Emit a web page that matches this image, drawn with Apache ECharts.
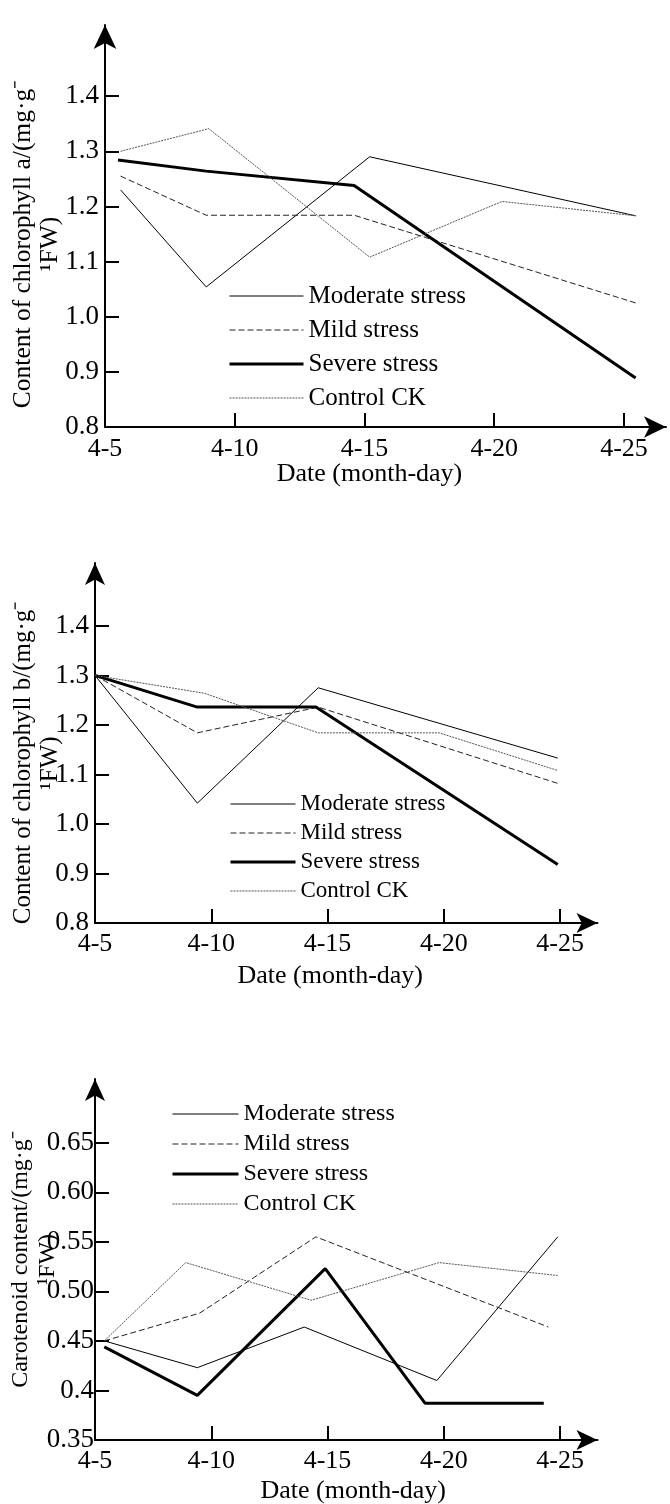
<!DOCTYPE html>
<html>
<head>
<meta charset="utf-8">
<script src="https://cdn.jsdelivr.net/npm/echarts@6.0.0/dist/echarts.min.js"></script>
<style>
html, body { margin: 0; padding: 0; background: #fff; }
#main { width: 670px; height: 1504px; }
</style>
</head>
<body>
<div id="main"></div>
<script>
var names = ['Moderate stress', 'Mild stress', 'Severe stress', 'Control CK'];

// x = day of April (4-5 ... 4-25)
var dayTicks = [5, 10, 15, 20, 25];
var chlTicks = [0.8, 0.9, 1.0, 1.1, 1.2, 1.3, 1.4];
var chlTickLabels = ['0.8', '0.9', '1.0', '1.1', '1.2', '1.3', '1.4'];
var carTicks = [0.35, 0.40, 0.45, 0.50, 0.55, 0.60, 0.65];
var carTickLabels = ['0.35', '0.4', '0.45', '0.50', '0.55', '0.60', '0.65'];

// chlorophyll a  [day, mg/g FW]
var aModerate = [[5.6, 1.230], [8.9, 1.054], [15.2, 1.290], [25.45, 1.183]];
var aMild     = [[5.6, 1.255], [8.9, 1.184], [14.6, 1.184], [25.45, 1.025]];
var aSevere   = [[5.5, 1.284], [8.9, 1.264], [14.6, 1.238], [25.45, 0.889]];
var aControl  = [[5.6, 1.300], [9.0, 1.341], [15.2, 1.108], [20.3, 1.209], [25.45, 1.183]];

// chlorophyll b
var bModerate = [[5, 1.300], [9.4, 1.042], [14.6, 1.275], [24.9, 1.133]];
var bMild     = [[5, 1.300], [9.4, 1.184], [14.6, 1.236], [24.9, 1.082]];
var bSevere   = [[5, 1.300], [9.4, 1.236], [14.5, 1.236], [24.9, 0.918]];
var bControl  = [[5, 1.300], [9.7, 1.264], [14.6, 1.184], [19.8, 1.184], [24.9, 1.108]];

// carotenoid
var cModerate = [[5.4, 0.450], [9.4, 0.423], [14.0, 0.464], [19.7, 0.410], [24.9, 0.555]];
var cMild     = [[5.4, 0.450], [9.5, 0.478], [14.5, 0.555], [24.5, 0.464]];
var cSevere   = [[5.4, 0.444], [9.4, 0.395], [14.9, 0.523], [19.2, 0.387], [24.3, 0.387]];
var cControl  = [[5.4, 0.450], [8.9, 0.529], [14.3, 0.491], [19.8, 0.529], [24.9, 0.516]];

var serif = 'Liberation Serif';
var lineStyles = [
	{ color: '#000', width: 1, type: 'solid' },
	{ color: '#222', width: 1, type: [6, 3] },
	{ color: '#000', width: 3, type: 'solid' },
	{ color: '#555', width: 1, type: [2, 1] }
];

function pickLabel(ticks, labels) {
	return function(v) {
		for (var i = 0; i < ticks.length; i++) {
			if (Math.abs(v - ticks[i]) < 1e-6) return labels[i];
		}
		return '';
	};
}

function dateAxis(grid, max, nameGap, namePad, labelMargin, arrow) {
	return {
		type: 'value', gridIndex: grid, min: 5, max: max,
		name: 'Date (month-day)', nameLocation: 'middle', nameGap: nameGap, nameMoveOverlap: false,
		nameTextStyle: { fontFamily: serif, fontSize: 26, color: '#000', padding: namePad },
		axisLine: { show: true, onZero: false, symbol: ['none', 'arrow'], symbolSize: arrow,
			lineStyle: { color: '#000', width: 2 } },
		axisTick: { show: true, inside: true, length: 14, customValues: dayTicks,
			lineStyle: { color: '#000', width: 2 } },
		axisLabel: { customValues: dayTicks, margin: labelMargin, fontFamily: serif, fontSize: 26, color: '#000',
			formatter: function(v) { return '4-' + v; } },
		splitLine: { show: false }
	};
}

function valueAxis(grid, min, max, ticks, labels, name, nameSize, nameGap, namePad, labelMargin, arrow) {
	return {
		type: 'value', gridIndex: grid, min: min, max: max,
		name: name, nameLocation: 'middle', nameRotate: 90, nameGap: nameGap, nameMoveOverlap: false,
		nameTextStyle: { fontFamily: serif, fontSize: nameSize, lineHeight: 27, color: '#000', padding: namePad },
		axisLine: { show: true, onZero: false, symbol: ['none', 'arrow'], symbolSize: arrow,
			lineStyle: { color: '#000', width: 2 } },
		axisTick: { show: true, inside: true, length: 14, customValues: ticks,
			lineStyle: { color: '#000', width: 2 } },
		axisLabel: { customValues: ticks, margin: labelMargin, fontFamily: serif, fontSize: 27, color: '#000',
			formatter: pickLabel(ticks, labels) },
		splitLine: { show: false }
	};
}

function legendBox(left, top, itemWidth, fontSize, gap) {
	var items = [];
	for (var i = 0; i < names.length; i++) {
		items.push({ name: names[i], lineStyle: lineStyles[i], itemStyle: { opacity: 0 } });
	}
	return {
		data: items, orient: 'vertical', left: left, top: top, padding: 0,
		itemWidth: itemWidth, itemHeight: 14, itemGap: gap, selectedMode: false,
		textStyle: { fontFamily: serif, fontSize: fontSize, lineHeight: 25, color: '#000' }
	};
}

function lines(idx, sets) {
	var out = [];
	for (var i = 0; i < sets.length; i++) {
		out.push({
			type: 'line', name: names[i], xAxisIndex: idx, yAxisIndex: idx,
			data: sets[i], symbol: 'none', showSymbol: false, silent: true,
			lineStyle: lineStyles[i]
		});
	}
	return out;
}

var Tu = echarts.init(document.getElementById('main'));
var option = {
	animation: false,
	backgroundColor: '#fff',
	grid: [
		{ left: 105, top: 25, width: 561, height: 402, containLabel: false, outerBoundsMode: 'none' },
		{ left: 95, top: 563, width: 502.5, height: 360, containLabel: false, outerBoundsMode: 'none' },
		{ left: 95, top: 1079, width: 502.5, height: 361, containLabel: false, outerBoundsMode: 'none' }
	],
	legend: [
		legendBox(228, 283.5, 74, 25, 9),
		legendBox(229, 791.5, 65, 23, 4),
		legendBox(171, 1101.5, 66, 24, 5)
	],
	xAxis: [
		dateAxis(0, 26.62, 34, [0, 32, 0, 0], 9, [16, 22]),
		dateAxis(1, 26.61, 40, [0, 32, 0, 0], 8, [15, 21]),
		dateAxis(2, 26.61, 38, [0, 0, 0, 14], 8, [15, 21])
	],
	yAxis: [
		valueAxis(0, 0.8, 1.529, chlTicks, chlTickLabels, 'Content of chlorophyll a/(mg·g⁻\n¹FW)', 25.5, 41, [0, 36, 0, 0], 6, [17, 24]),
		valueAxis(1, 0.8, 1.527, chlTicks, chlTickLabels, 'Content of chlorophyll b/(mg·g⁻\n¹FW)', 25, 31, [0, 40, 0, 0], 6, [15, 22]),
		valueAxis(2, 0.35, 0.7143, carTicks, carTickLabels, 'Carotenoid content/(mg·g⁻\n¹FW)', 24, 34, 0, 1, [15, 22])
	],
	series: [].concat(
		lines(0, [aModerate, aMild, aSevere, aControl]),
		lines(1, [bModerate, bMild, bSevere, bControl]),
		lines(2, [cModerate, cMild, cSevere, cControl])
	)
};
Tu.setOption(option);
</script>
</body>
</html>
